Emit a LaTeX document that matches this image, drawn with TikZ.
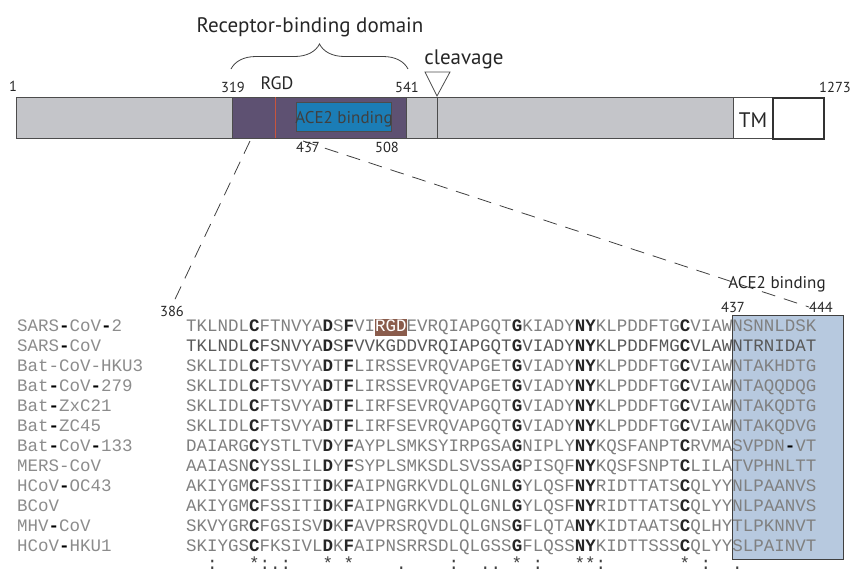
\documentclass[tikz,border=0pt]{standalone}
\usepackage{fontspec}
\setmainfont{PT Sans}
\newfontfamily\seqfont{Liberation Mono}
\usepackage{tikz}
\usetikzlibrary{decorations.pathreplacing,positioning}
\usepackage{xcolor}
\definecolor{bargray}{HTML}{C4C5C9}
\definecolor{rbdpurple}{HTML}{5E5172}
\definecolor{acebar}{HTML}{1B7DB6}
\definecolor{aceshade}{HTML}{B7C9DF}
\definecolor{rgdbrown}{HTML}{8A5C4C}
\definecolor{rgdline}{HTML}{C8553D}
\newcommand{\bres}[1]{{\bfseries\color{black!85}#1}}
\newcommand{\hy}{{\bfseries\color{black}-}}
\newcommand{\rgdtxt}[1]{{\color{white}#1}}

\begin{document}
\begin{tikzpicture}[
    x=1pt,y=-1pt,
    dom/.style={draw=black!70,line width=.8pt,inner sep=0pt,anchor=north west,minimum height=41pt},
    num/.style={font=\fontsize{14.5}{14.5}\selectfont,text=black!85,inner sep=0pt},
    big/.style={font=\fontsize{21}{21}\selectfont,text=black!85,inner sep=0pt},
    seq/.style={font=\seqfont\fontsize{17.5}{17.5}\selectfont,anchor=base west,inner sep=0pt},
    cons/.style={font=\seqfont\fontsize{17.5}{17.5}\selectfont,anchor=base,inner sep=0pt,text=black!75},
    zoomline/.style={dash pattern=on 14pt off 9pt,line width=.8pt,black!75}
  ]
    \useasboundingbox (0,0) rectangle (853,571);
    % spike protein bar
    \node[dom,fill=bargray,minimum width=717pt] (body) at (16,97) {};
    \node[dom,fill=rbdpurple,minimum width=174pt] (rbd) at (232,97) {};
    \draw[rgdline,line width=.6pt] (275,97) -- (275,138);
    \node[dom,fill=acebar,minimum width=95pt,minimum height=29pt] (ace) at (296,102) {};
    \node[font=\fontsize{17}{17}\selectfont,text=black!75,inner sep=0pt] (acetxt) at (344,119) {ACE2 binding};
    \node[dom,fill=white,minimum width=39pt] (tm) at (733,97) {};
    \node[font=\fontsize{21}{21}\selectfont,text=black!85,inner sep=0pt] (tmtxt) at (753,120) {TM};
    \node[dom,draw=black!80,line width=1.6pt,minimum width=51pt] (ctail) at (772,97) {};
    \draw[black!70,line width=.8pt] (437,97) -- (437,138);
    \draw[black!70,line width=.8pt,fill=white] (425,72) -- (450,72) -- (437,96) -- cycle;
    % labels on the bar
    \node[big] (rbdlabel) at (310,27) {Receptor-binding domain};
    \draw[black!75,line width=.8pt,decorate,decoration={brace,amplitude=25pt}] (231,69) -- (408,69);
    \node[big] (cleave) at (464,59) {cleavage};
    \node[num] (n1) at (13,86) {1};
    \node[num] (n319) at (233,87) {319};
    \node[font=\fontsize{18}{18}\selectfont,text=black!85,inner sep=0pt] (nrgd) at (277,83) {RGD};
    \node[num] (n541) at (407,87) {541};
    \node[num] (n1273) at (835,87) {1273};
    \node[num] (n437) at (308,147) {437};
    \node[num] (n508) at (387,147) {508};
    % alignment
    \fill[aceshade] (732,315) rectangle (843,559);
    \draw[black!75,line width=.9pt] (732,559) -- (732,315) -- (843,315) -- (843,559) -- cycle;
    \fill[rgdbrown] (375,318.5) rectangle (406.5,336);
    \node[num] (n386) at (172,311) {386};
    \node[num] (n437b) at (733,307) {437};
    \node[num] (n444) at (821,307) {444};
    \node[font=\fontsize{17}{17}\selectfont,text=black!85,inner sep=0pt] (acelabel) at (777,284) {ACE2 binding};
    \foreach \i/\nm/\sq/\tone in {
      1/{SARS\hy CoV\hy 2}/{TKLNDL\bres{C}FTNVYA\bres{D}S\bres{F}VI\rgdtxt{RGD}EVRQIAPGQT\bres{G}KIADY\bres{NY}KLPDDFTG\bres{C}VIAWNSNNLDSK}/50,
      2/{SARS\hy CoV}/{TKLNDL\bres{C}FSNVYA\bres{D}S\bres{F}VVKGDDVRQIAPGQT\bres{G}VIADY\bres{NY}KLPDDFMG\bres{C}VLAWNTRNIDAT}/65,
      3/{Bat-CoV-HKU3}/{SKLIDL\bres{C}FTSVYA\bres{D}T\bres{F}LIRSSEVRQVAPGET\bres{G}VIADY\bres{NY}KLPDDFTG\bres{C}VIAWNTAKHDTG}/50,
      4/{Bat\hy CoV\hy 279}/{SKLIDL\bres{C}FTSVYA\bres{D}T\bres{F}LIRSSEVRQVAPGET\bres{G}VIADY\bres{NY}KLPDDFTG\bres{C}VIAWNTAQQDQG}/50,
      5/{Bat\hy ZxC21}/{SKLIDL\bres{C}FTSVYA\bres{D}T\bres{F}LIRFSEVRQVAPGQT\bres{G}VIADY\bres{NY}KLPDDFTG\bres{C}VIAWNTAKQDTG}/50,
      6/{Bat\hy ZC45}/{SKLIDL\bres{C}FTSVYA\bres{D}T\bres{F}LIRFSEVRQVAPGQT\bres{G}VIADY\bres{NY}KLPDDFTG\bres{C}VIAWNTAKQDVG}/50,
      7/{Bat\hy CoV\hy 133}/{DAIARG\bres{C}YSTLTV\bres{D}Y\bres{F}AYPLSMKSYIRPGSA\bres{G}NIPLY\bres{NY}KQSFANPT\bres{C}RVMASVPDN\hy VT}/50,
      8/{MERS-CoV}/{AAIASN\bres{C}YSSLIL\bres{D}Y\bres{F}SYPLSMKSDLSVSSA\bres{G}PISQF\bres{NY}KQSFSNPT\bres{C}LILATVPHNLTT}/50,
      9/{HCoV\hy OC43}/{AKIYGM\bres{C}FSSITI\bres{D}K\bres{F}AIPNGRKVDLQLGNL\bres{G}YLQSF\bres{NY}RIDTTATS\bres{C}QLYYNLPAANVS}/50,
      10/{BCoV}/{AKIYGM\bres{C}FSSITI\bres{D}K\bres{F}AIPNGRKVDLQLGNL\bres{G}YLQSF\bres{NY}RIDTTATS\bres{C}QLYYNLPAANVS}/50,
      11/{MHV\hy CoV}/{SKVYGR\bres{C}FGSISV\bres{D}K\bres{F}AVPRSRQVDLQLGNS\bres{G}FLQTA\bres{NY}KIDTAATS\bres{C}QLHYTLPKNNVT}/50,
      12/{HCoV\hy HKU1}/{SKIYGS\bres{C}FKSIVL\bres{D}K\bres{F}AIPNSRRSDLQLGSS\bres{G}FLQSS\bres{NY}KIDTTSSS\bres{C}QLYYSLPAINVT}/50} {
      \node[seq,text=black!45] (name\i) at (17,{331+20*(\i-1)}) {\nm};
      \node[seq,text=black!\tone] (row\i) at (186,{331+20*(\i-1)}) {\sq};
    }
    \foreach \c/\s in {3/:,7/*,8/:,9/.,10/:,14/*,16/*,21/.,26/:,29/.,30/.,32/*,34/:,38/*,39/*,40/:,48/*,50/:,53/.}
      \node[cons] (cons\c) at ({186+(\c-0.5)*10.5},569) {\s};
    % zoom lines
    \coordinate (rbdcut) at (250,141);
    \coordinate (acecut) at (303,141);
    \draw[zoomline,shorten >=4pt] (rbdcut) -- (n386.north);
    \draw[zoomline] (acecut) -- (n444.west);
\end{tikzpicture}
\end{document}
